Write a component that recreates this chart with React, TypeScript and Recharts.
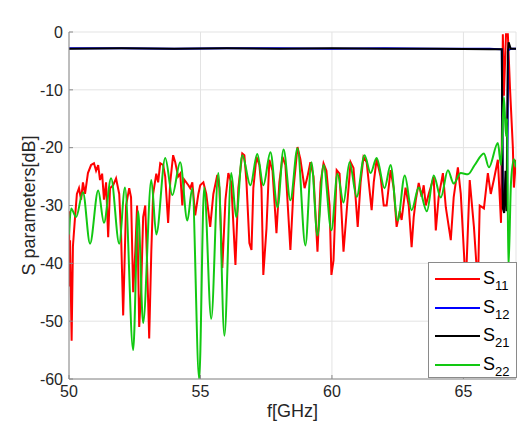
import { LineChart, Line, XAxis, YAxis, CartesianGrid, Legend, Label } from "recharts";

// frequency axis (GHz) and dB axis
const freqTicks = [50, 55, 60, 65];
const dbTicks = [-60, -50, -40, -30, -20, -10, 0];

// S11 (red)
const s11Freq = [
  50.0, 50.02, 50.04, 50.1, 50.15, 50.23, 50.3, 50.38, 50.46, 50.53,
  50.61, 50.72, 50.84, 50.95, 51.03, 51.11, 51.18, 51.26, 51.33, 51.41,
  51.49, 51.56, 51.68, 51.79, 51.91, 51.98, 52.06, 52.17, 52.29, 52.36,
  52.44, 52.52, 52.59, 52.67, 52.74, 52.82, 52.9, 52.97, 53.05, 53.13,
  53.2, 53.32, 53.39, 53.47, 53.58, 53.66, 53.77, 53.85, 53.96, 54.04,
  54.15, 54.23, 54.31, 54.38, 54.54, 54.61, 54.69, 54.8, 54.92, 54.99,
  55.11, 55.22, 55.37, 55.49, 55.64, 55.72, 55.83, 55.95, 56.06, 56.17,
  56.33, 56.44, 56.59, 56.67, 56.75, 56.86, 56.94, 57.01, 57.13, 57.24,
  57.32, 57.39, 57.51, 57.62, 57.74, 57.89, 58.0, 58.12, 58.23, 58.42,
  58.54, 58.69, 58.8, 58.96, 59.07, 59.18, 59.3, 59.45, 59.57, 59.68,
  59.79, 59.91, 59.98, 60.06, 60.18, 60.29, 60.44, 60.56, 60.71, 60.82,
  60.98, 61.09, 61.2, 61.32, 61.51, 61.59, 61.7, 61.85, 61.97, 62.08,
  62.23, 62.35, 62.46, 62.58, 62.65, 62.8, 62.92, 63.03, 63.11, 63.19,
  63.3, 63.41, 63.49, 63.57, 63.68, 63.87, 63.95, 64.06, 64.22, 64.33,
  64.52, 64.63, 64.79, 64.9, 65.09, 65.24, 65.4, 65.55, 65.62, 65.78,
  65.93, 66.04, 66.16, 66.31, 66.43, 66.5, 66.54, 66.62, 66.69, 66.77,
  66.88, 66.92, 67.0,
];
const s11Db = [
  -31, -44, -36, -53.4, -37, -32, -28, -27, -29, -26,
  -28, -24.4, -23, -22.7, -24, -23, -25.6, -24.5, -29, -26,
  -35.5, -27, -26.5, -25.3, -28, -35, -49, -30, -27, -28.6,
  -45, -38, -30, -51, -45, -32, -30, -40, -53, -38,
  -28, -24.5, -26, -22.7, -23, -25, -33, -26, -21.3, -22.5,
  -25, -24.5, -30, -25.5, -26.5, -27, -26, -31.7, -28, -26.5,
  -26, -28, -33.7, -28, -24.7, -27, -40.8, -29, -24.4, -26,
  -40.3, -27, -21, -21.3, -26, -36.5, -37.7, -27, -21.6, -23,
  -27, -42, -34, -22.1, -24, -34.8, -26, -21.6, -23, -37.7,
  -27, -19.9, -22, -27, -25, -22.5, -25, -38, -26, -22.7,
  -24, -30, -42, -39.5, -23.9, -24.5, -38, -31, -22.5, -23.5,
  -33.7, -26, -21.6, -22.5, -30.8, -26, -22, -25, -30, -30,
  -23.9, -27, -33.7, -31, -32.5, -26.9, -30, -37.2, -32, -29,
  -26.1, -28.5, -26.5, -30, -28, -25.1, -34.3, -28.5, -24.4, -30.3,
  -36, -28.6, -23.4, -28, -44, -25.6, -33.7, -44, -30, -30.5,
  -24.4, -28, -25.5, -22.1, -33, -0.4, -11, -0.4, -0.4, -9.5,
  -19.9, -26.9, -22.1,
];

// S12 (blue)
const s12Freq = [50, 52, 54, 56, 58, 60, 62, 64, 66, 66.46, 66.5, 66.56, 66.62, 66.66, 66.7, 66.8, 67];
const s12Db = [-2.8, -2.8, -2.9, -2.8, -2.8, -2.9, -2.8, -2.9, -2.9, -3.0, -29, -30, -25, -30, -3.2, -2.9, -2.9];

// S21 (black)
const s21Freq = [50, 52, 54, 56, 58, 60, 62, 64, 66, 66.46, 66.5, 66.55, 66.6, 66.64, 66.69, 66.72, 66.8, 67];
const s21Db = [-2.9, -2.8, -2.9, -2.8, -2.9, -2.8, -2.9, -2.9, -3.0, -3.0, -30.5, -31.3, -24, -31, -3.5, -1.8, -2.9, -2.9];

// S22 (green)
const s22Freq = [
  50.0, 50.08, 50.27, 50.53, 50.8, 51.11, 51.33, 51.6, 51.91, 52.13,
  52.44, 52.63, 52.82, 53.13, 53.32, 53.66, 53.93, 54.23, 54.5, 54.69,
  54.95, 55.14, 55.41, 55.68, 55.91, 56.17, 56.36, 56.59, 56.9, 57.16,
  57.39, 57.66, 57.93, 58.16, 58.42, 58.69, 58.99, 59.22, 59.45, 59.68,
  59.98, 60.21, 60.44, 60.67, 60.94, 61.24, 61.47, 61.7, 62.0, 62.23,
  62.5, 62.77, 63.03, 63.3, 63.61, 63.87, 64.14, 64.41, 64.63, 64.9,
  65.17, 65.43, 65.78, 65.97, 66.31, 66.43, 66.54, 66.62, 66.66, 66.71,
  66.81, 66.92, 67.0,
];
const s22Db = [
  -35, -30.5, -32, -27.7, -36.6, -27.4, -33, -25.3, -36.6, -26.9,
  -55, -31, -50.3, -25.6, -35, -21.8, -28.2, -22.5, -32.6, -27,
  -60, -26.9, -49.6, -24.4, -52.5, -24.4, -32, -21.3, -26.5, -21.1,
  -26.5, -20.8, -30.3, -20.3, -29.1, -20.1, -36.9, -22.5, -35.2, -23,
  -34.3, -24.5, -29.5, -22.5, -28.5, -21.3, -24.4, -21.8, -27, -23,
  -32.6, -24.8, -30.8, -26.9, -31, -24.8, -28.6, -23.9, -26.2, -24.4,
  -24.6, -23, -21, -23.4, -19.2, -23, -11.3, -18, -15, -41,
  -26, -22, -23.4,
];

const toPoints = (freq: number[], db: number[]) => freq.map((f, i) => ({ f, db: db[i] }));

const series = [
  { name: "S11", color: "#ff0000", data: toPoints(s11Freq, s11Db), curve: "linear" },
  { name: "S12", color: "#0000ff", data: toPoints(s12Freq, s12Db), curve: "linear" },
  { name: "S21", color: "#000000", data: toPoints(s21Freq, s21Db), curve: "linear" },
  { name: "S22", color: "#12c812", data: toPoints(s22Freq, s22Db), curve: "monotone" },
];

const FONT = '"Liberation Sans", Arial, Helvetica, sans-serif';
const TEXT = "#262626";
const FRAME = "#8a8a8a";
const tickStyle = { fill: TEXT, fontSize: 16, fontFamily: FONT };

function LegendBox({ payload }: any) {
  return (
    <div
      style={{
        width: 89,
        height: 116,
        boxSizing: "border-box",
        background: "#fff",
        border: `1px solid ${FRAME}`,
        paddingTop: 2,
        fontFamily: FONT,
        color: "#000",
      }}
    >
      {(payload || []).map((p: any) => (
        <div key={p.value} style={{ display: "flex", alignItems: "center", height: 28.5 }}>
          <span style={{ display: "inline-block", width: 45, height: 2, marginLeft: 6, background: p.color }} />
          <span style={{ fontSize: 18, marginLeft: 3, lineHeight: "18px" }}>
            {p.value.slice(0, 1)}
            <span style={{ fontSize: 13, position: "relative", top: 6 }}>{p.value.slice(1)}</span>
          </span>
        </div>
      ))}
    </div>
  );
}

export default function App() {
  return (
    <div style={{ position: "absolute", left: 0, top: 0, width: 518, height: 437, background: "#fff" }}>
      <LineChart width={518} height={437} margin={{ top: 32, right: 2, bottom: 28, left: 29 }}>
        <CartesianGrid stroke="#e3e3e3" strokeWidth={1} xAxisId="bottom" yAxisId="left" />
        <XAxis
          xAxisId="bottom"
          dataKey="f"
          type="number"
          domain={[50, 67]}
          ticks={freqTicks}
          allowDataOverflow
          height={30}
          stroke={FRAME}
          tickSize={-4}
          tickMargin={11}
          tick={tickStyle}
        >
          <Label
            content={({ viewBox }: any) => (
              <text
                x={viewBox.x + viewBox.width / 2}
                y={417}
                textAnchor="middle"
                fontSize={18}
                fontFamily={FONT}
                fill={TEXT}
              >
                f[GHz]
              </text>
            )}
          />
        </XAxis>
        <XAxis
          xAxisId="top"
          orientation="top"
          dataKey="f"
          type="number"
          domain={[50, 67]}
          ticks={freqTicks}
          allowDataOverflow
          height={0}
          stroke={FRAME}
          tickSize={-4}
          tick={false}
        >
          <Label
            content={({ viewBox }: any) => (
              <text
                x={viewBox.x + viewBox.width / 2}
                y={21}
                textAnchor="middle"
                fontSize={18}
                fontWeight="bold"
                fontFamily={FONT}
                fill="#000"
              >
                25mm cable
              </text>
            )}
          />
        </XAxis>
        <YAxis
          yAxisId="left"
          type="number"
          domain={[-60, 0]}
          ticks={dbTicks}
          allowDataOverflow
          width={40}
          stroke={FRAME}
          tickSize={-4}
          tickMargin={10}
          tick={tickStyle}
        >
          <Label
            content={({ viewBox }: any) => (
              <text
                x={0}
                y={0}
                transform={`translate(${viewBox.x + 6}, ${viewBox.y + viewBox.height / 2}) rotate(-90)`}
                textAnchor="middle"
                fontSize={18}
                fontFamily={FONT}
                fill={TEXT}
              >
                S parameters[dB]
              </text>
            )}
          />
        </YAxis>
        <YAxis
          yAxisId="right"
          orientation="right"
          type="number"
          domain={[-60, 0]}
          ticks={dbTicks}
          allowDataOverflow
          width={0}
          stroke={FRAME}
          tickSize={-4}
          tick={false}
        />
        <Legend
          layout="horizontal"
          verticalAlign="middle"
          align="center"
          content={<LegendBox />}
          wrapperStyle={{ left: 428, top: 262, width: 89, height: 116 }}
        />
        {series.map((s) => (
          <Line
            key={s.name}
            xAxisId="bottom"
            yAxisId="left"
            data={s.data}
            dataKey="db"
            name={s.name}
            type={s.curve as any}
            stroke={s.color}
            strokeWidth={2}
            dot={false}
            activeDot={false}
            isAnimationActive={false}
          />
        ))}
      </LineChart>
    </div>
  );
}
